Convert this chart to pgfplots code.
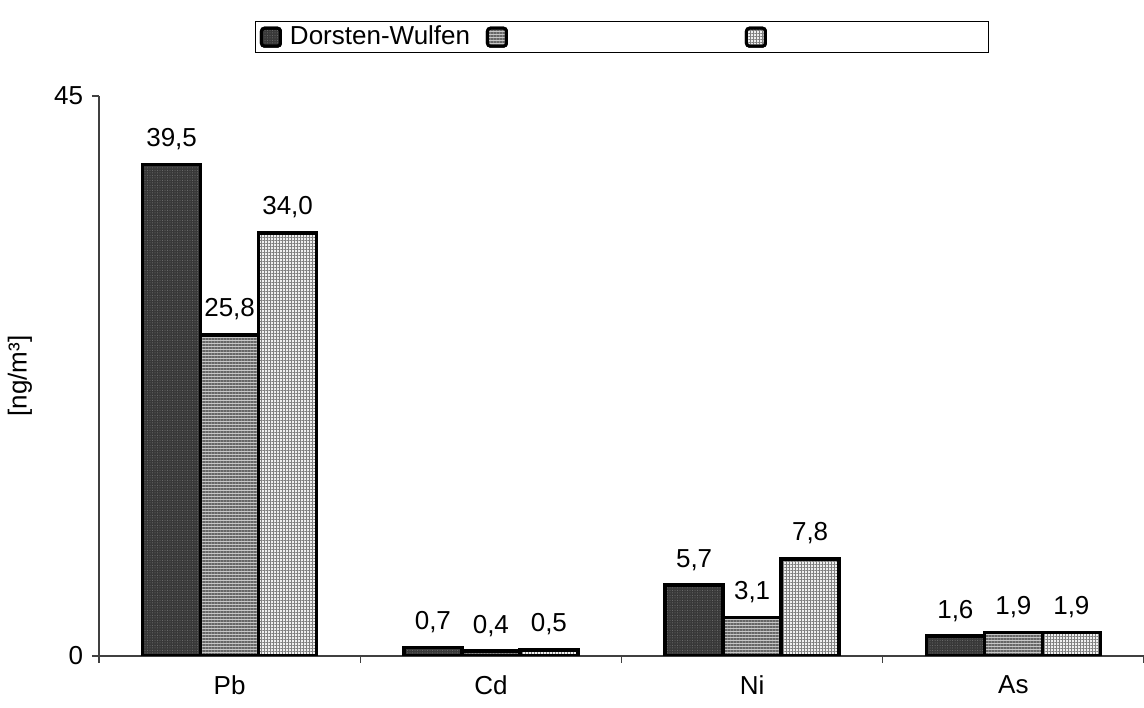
\documentclass[border=0pt]{standalone}
\usepackage{fontspec}
\setmainfont{Liberation Sans}
\usepackage{pgfplots}
\pgfplotsset{compat=1.18}
\usetikzlibrary{patterns.meta}
\begin{document}
\fontsize{26pt}{30pt}\selectfont
\begin{tikzpicture}
\path[use as bounding box] (0,0) rectangle (1144pt,708pt);
\begin{axis}[
  at={(99pt,52pt)}, anchor=south west,
  scale only axis, width=1045pt, height=560pt,
  /pgf/number format/assume math mode=true,
  ybar=0pt, bar width=58pt,
  xmin=-0.5, xmax=3.5, ymin=0, ymax=45,
  axis x line*=bottom, axis y line*=left,
  axis line style={black!75, line width=1.2pt},
  xtick={0,1,2,3}, xticklabels={Pb,Cd,Ni,As},
  minor xtick={-0.5,0.5,1.5,2.5,3.5},
  major x tick style={draw=none},
  minor x tick style={black!75, line width=1.2pt},
  minor tick length=7pt,
  major tick length=7pt,
  tick align=outside,
  ytick={0,45},
  y tick style={black!75, line width=1.2pt},
  tick label style={font=\fontsize{26pt}{30pt}\selectfont},
  xticklabel style={yshift=-4pt},
  ylabel={[ng/m³]},
  ylabel style={font=\fontsize{26pt}{30pt}\selectfont, at={(axis description cs:-0.0756,0.5)}, anchor=center},
  nodes near coords={\pgfmathprintnumber[fixed,fixed zerofill,precision=1,use comma]{\pgfplotspointmeta}},
  every node near coord/.append style={font=\fontsize{26pt}{30pt}\selectfont, anchor=base, yshift=18pt, black},
  legend columns=3,
  legend cell align=left,
  legend style={at={(0.5,1.105)}, anchor=center, draw=black, line width=0.8pt,
    inner xsep=5pt, inner ysep=4pt,
    font=\fontsize{26pt}{30pt}\selectfont,
    nodes={inner sep=0pt, anchor=west},
    /tikz/every odd column/.append style={column sep=8pt},
    /tikz/every even column/.append style={column sep=0pt}},
  legend image code/.code={\draw[#1, line width=3pt, rounded corners=3pt] (0pt,-9pt) rectangle (19pt,9pt);},
]
\addplot[draw=black, line width=3.5pt, fill=black!78,
  postaction={pattern={Dots[distance=2.5pt, radius=0.5pt]}, pattern color=black!55}]
  coordinates {(0,39.5) (1,0.7) (2,5.7) (3,1.6)};
\addplot[draw=black, line width=3.5pt, fill=black!22,
  postaction={pattern={Lines[angle=0, distance=3pt, line width=1.3pt]}, pattern color=black!60}]
  coordinates {(0,25.8) (1,0.4) (2,3.1) (3,1.9)};
\addplot[draw=black, line width=3.5pt, fill=black!6,
  postaction={pattern={Hatch[angle=0, distance=3pt, line width=0.7pt]}, pattern color=black!50}]
  coordinates {(0,34.0) (1,0.5) (2,7.8) (3,1.9)};
\legend{\makebox[196pt][l]{Dorsten-Wulfen},\makebox[229pt][l]{},\makebox[208pt][l]{}}
\end{axis}
\end{tikzpicture}
\end{document}
